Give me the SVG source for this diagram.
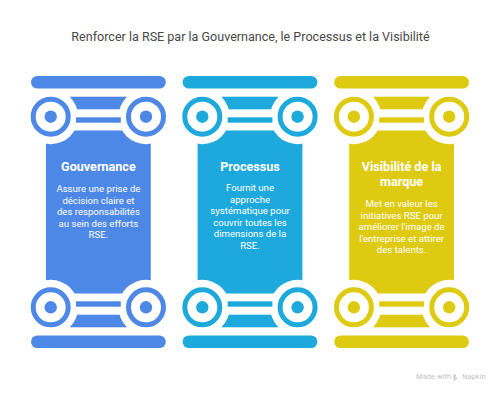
<svg xmlns="http://www.w3.org/2000/svg" width="500" height="394" viewBox="0 0 500 394">
  <style>
    text { font-family: Roboto, "Liberation Sans", sans-serif; }
    .title { font-size: 12.55px; fill: #484848; text-anchor: middle; }
    .head { font-size: 12.6px; font-weight: 700; fill: #fff; text-anchor: middle; }
    .body { font-size: 9.6px; fill: #fff; text-anchor: middle; }
    .credit { font-size: 7.6px; fill: #c4c4c4; }
    .knock { fill: #fff; }
  </style>
  <defs>
    <!-- One column: bars, capitals and shaft, drawn in the current colour -->
    <g id="pillar">
      <rect x="31" y="76" width="134.8" height="12.6" rx="6.3" fill="currentColor"/>
      <rect x="31" y="335.4" width="134.8" height="12.6" rx="6.3" fill="currentColor"/>
      <rect x="70" y="96.7" width="56.8" height="12.6" fill="currentColor"/>
      <rect x="70" y="314.7" width="56.8" height="12.6" fill="currentColor"/>
      <rect x="46" y="130.5" width="104.8" height="163" fill="currentColor"/>
      <circle class="knock" cx="50.7" cy="116.7" r="27.5"/>
      <circle class="knock" cx="146" cy="116.7" r="27.5"/>
      <circle class="knock" cx="50.7" cy="307.3" r="27.5"/>
      <circle class="knock" cx="146" cy="307.3" r="27.5"/>
      <rect x="76" y="117.3" width="44.8" height="5.4" fill="currentColor"/>
      <rect x="76" y="301.3" width="44.8" height="5.4" fill="currentColor"/>
      <g id="scroll">
        <circle cx="50.7" cy="116.7" r="17.5" fill="none" stroke="currentColor" stroke-width="5"/>
        <circle cx="50.7" cy="116.7" r="6.2" fill="currentColor"/>
      </g>
      <use href="#scroll" x="95.3"/>
      <use href="#scroll" y="190.6"/>
      <use href="#scroll" x="95.3" y="190.6"/>
    </g>
  </defs>

  <text class="title" x="250.5" y="41">Renforcer la RSE par la Gouvernance, le Processus et la Visibilité</text>

  <g id="gouvernance" style="color:#4e88e7">
    <use href="#pillar"/>
    <text class="head" x="98.4" y="170.5">Gouvernance</text>
    <text class="body" x="98.4" y="192">Assure une prise de</text>
    <text class="body" x="98.4" y="203.6">décision claire et</text>
    <text class="body" x="98.4" y="215.2">des responsabilités</text>
    <text class="body" x="98.4" y="226.8">au sein des efforts</text>
    <text class="body" x="98.4" y="238.4">RSE.</text>
  </g>

  <g id="processus" style="color:#1da9dc">
    <use href="#pillar" x="151.6"/>
    <text class="head" x="250" y="170.5">Processus</text>
    <text class="body" x="250" y="191">Fournit une</text>
    <text class="body" x="250" y="202.6">approche</text>
    <text class="body" x="250" y="214.2">systématique pour</text>
    <text class="body" x="250" y="225.8">couvrir toutes les</text>
    <text class="body" x="250" y="237.4">dimensions de la</text>
    <text class="body" x="250" y="249">RSE.</text>
  </g>

  <g id="visibilite" style="color:#dfca12">
    <use href="#pillar" x="303.2"/>
    <text class="head" x="401.6" y="170.5">Visibilité de la</text>
    <text class="head" x="401.6" y="185.5">marque</text>
    <text class="body" x="401.6" y="207">Met en valeur les</text>
    <text class="body" x="401.6" y="218.6">initiatives RSE pour</text>
    <text class="body" x="401.6" y="230.2">améliorer l'image de</text>
    <text class="body" x="401.6" y="241.8">l'entreprise et attirer</text>
    <text class="body" x="401.6" y="253.4">des talents.</text>
  </g>

  <g id="credit">
    <text class="credit" x="416" y="379">Made with</text>
    <path d="M453.500 373.500l3 2.500-2 1 3.500 1.500-3.500 1.500.5 2 -2-2.500 2-1-2.500-1.500 1.500-1z" fill="#c4c4c4"/>
    <text class="credit" x="462" y="379">Napkin</text>
  </g>
</svg>
